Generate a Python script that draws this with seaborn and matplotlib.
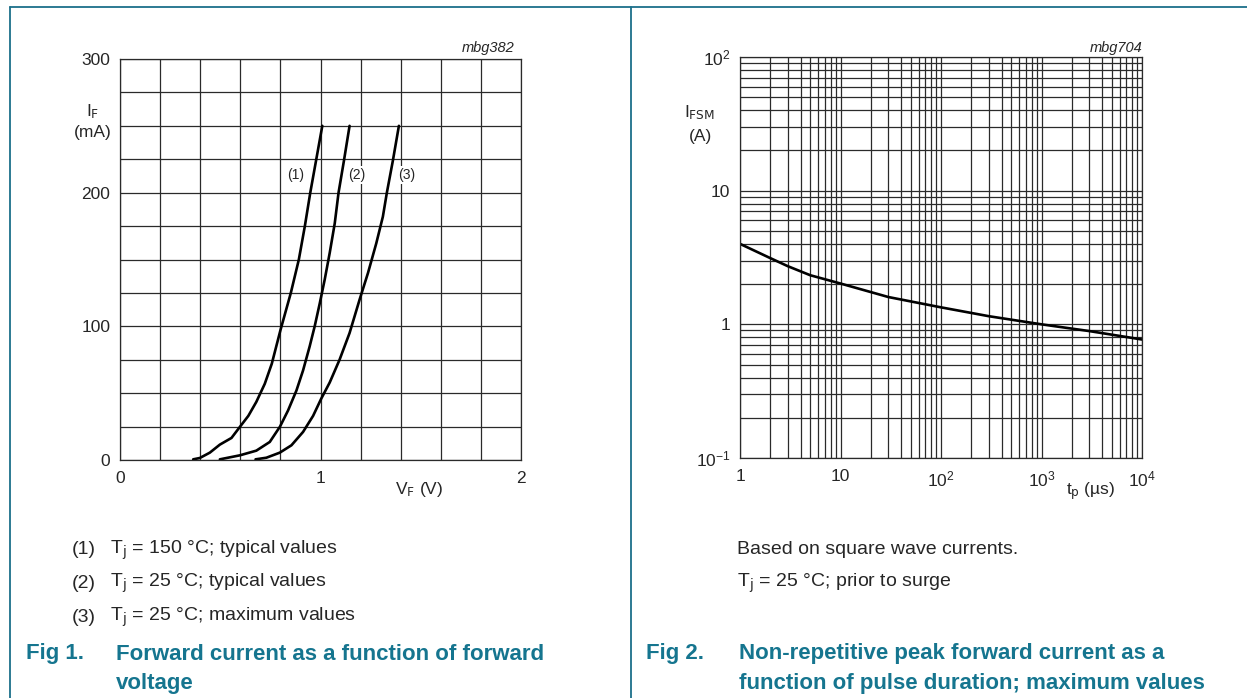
import seaborn as sns
import matplotlib.pyplot as plt
import matplotlib.ticker as mticker
from matplotlib.lines import Line2D
import pandas as pd
import numpy as np

# ---- Data ----
curve_labels = ["(1)", "(2)", "(3)"]
vf_1 = [0.365, 0.398, 0.448, 0.498, 0.556, 0.599, 0.640, 0.680, 0.722, 0.757, 0.800,
        0.852, 0.892, 0.922, 0.949, 0.979, 1.009]
if_1 = [0.5, 1.5, 5.5, 11.5, 16.5, 25, 33, 43.5, 57, 72, 97,
        125, 150, 175, 200, 225, 250]
vf_2 = [0.498, 0.598, 0.680, 0.747, 0.798, 0.838, 0.880, 0.913, 0.946, 0.971, 0.996,
        1.021, 1.046, 1.071, 1.090, 1.117, 1.145]
if_2 = [0.5, 3.5, 7, 13.5, 25, 37, 52, 67, 85, 100, 117,
        135, 155, 177, 200, 224, 250]
vf_3 = [0.676, 0.730, 0.797, 0.855, 0.913, 0.963, 1.004, 1.046, 1.095, 1.145, 1.195,
        1.237, 1.278, 1.311, 1.331, 1.361, 1.391]
if_3 = [0.5, 1.7, 5.5, 11, 21, 33, 46, 58, 75, 95, 120,
        140, 162, 182, 200, 224, 250]
label_x = [0.874, 1.18, 1.43]
label_y = [213, 213, 213]

tp_us = [1, 2, 3, 5, 10, 30, 100, 300, 1000, 3000, 10000]
ifsm_a = [4.0, 3.13, 2.72, 2.33, 2.02, 1.60, 1.34, 1.15, 1.0, 0.89, 0.77]

fig1_notes = [r"T$_\mathrm{j}$ = 150 °C; typical values",
              r"T$_\mathrm{j}$ = 25 °C; typical values",
              r"T$_\mathrm{j}$ = 25 °C; maximum values"]
fig2_notes = ["Based on square wave currents.", r"T$_\mathrm{j}$ = 25 °C; prior to surge"]

rows = []
for lab, xs, ys in zip(curve_labels, [vf_1, vf_2, vf_3], [if_1, if_2, if_3]):
    for x, y in zip(xs, ys):
        rows.append({"curve": lab, "VF": x, "IF": y})
df_fwd = pd.DataFrame(rows)
df_surge = pd.DataFrame({"tp": tp_us, "IFSM": ifsm_a})

# ---- Style ----
sns.set_style("white")
plt.rcParams["font.family"] = ["Liberation Sans", "DejaVu Sans"]
plt.rcParams["mathtext.default"] = "regular"

W, H = 1247, 698
fig = plt.figure(figsize=(W / 100, H / 100), dpi=100)
teal = "#1b6f8a"
cap_col = "#15758f"
gcol = "#2a2a2a"


def fx(px):
    return px / W


def fy(py):
    return 1 - py / H


# frame lines
for xs, ys in [([10, 10], [7, H]), ([10, W], [7, 7]), ([630.5, 630.5], [7, H])]:
    fig.add_artist(Line2D([fx(v) for v in xs], [fy(v) for v in ys],
                          transform=fig.transFigure, color=teal, lw=1.3))

# ---- Fig 1: forward current ----
ax1 = fig.add_axes([fx(120), fy(460), (521 - 120) / W, (460 - 59) / H])
sns.lineplot(data=df_fwd, x="VF", y="IF", units="curve", estimator=None,
             sort=False, color="black", lw=1.9, ax=ax1)
ax1.set_xlim(0, 2)
ax1.set_ylim(0, 300)
ax1.xaxis.set_major_locator(mticker.FixedLocator([0, 1, 2]))
ax1.xaxis.set_minor_locator(mticker.MultipleLocator(0.2))
ax1.yaxis.set_major_locator(mticker.FixedLocator([0, 100, 200, 300]))
ax1.yaxis.set_minor_locator(mticker.MultipleLocator(25))
ax1.xaxis.set_major_formatter(mticker.FixedFormatter(["0", "1", "2"]))
ax1.grid(True, which="both", color=gcol, lw=0.9)
ax1.tick_params(which="both", length=0, labelsize=12.5)
ax1.tick_params(axis="x", pad=8)
ax1.tick_params(axis="y", pad=7)
ax1.set_xlabel("")
ax1.set_ylabel("")
for lab, x, y in zip(curve_labels, label_x, label_y):
    ax1.text(x, y, lab, fontsize=10, ha="center", va="center",
             bbox=dict(fc="white", ec="none", pad=1.5))
ax1.text(1.49, -15, r"V$_\mathrm{F}$ (V)", fontsize=12.5, ha="center", va="top")
ax1.text(1.97, 303, "mbg382", fontsize=10.5, style="italic", ha="right", va="bottom")

fig.text(fx(93), fy(112), r"I$_\mathrm{F}$", fontsize=12.5, ha="center", va="center")
fig.text(fx(93), fy(133), "(mA)", fontsize=12.5, ha="center", va="center")

# ---- Fig 2: surge current ----
ax2 = fig.add_axes([fx(740), fy(458), (1142 - 740) / W, (458 - 57) / H])
sns.lineplot(data=df_surge, x="tp", y="IFSM", color="black", lw=1.9, ax=ax2)
ax2.set_xscale("log")
ax2.set_yscale("log")
ax2.set_xlim(1, 1e4)
ax2.set_ylim(0.1, 100)
ax2.xaxis.set_major_locator(mticker.FixedLocator([1, 10, 100, 1000, 10000]))
ax2.xaxis.set_major_formatter(mticker.FixedFormatter(["1", "10", "$10^{2}$", "$10^{3}$", "$10^{4}$"]))
ax2.yaxis.set_major_locator(mticker.FixedLocator([0.1, 1, 10, 100]))
ax2.yaxis.set_major_formatter(mticker.FixedFormatter(["$10^{-1}$", "1", "10", "$10^{2}$"]))
ax2.xaxis.set_minor_locator(mticker.LogLocator(base=10, subs=np.arange(2, 10)))
ax2.yaxis.set_minor_locator(mticker.LogLocator(base=10, subs=np.arange(2, 10)))
ax2.xaxis.set_minor_formatter(mticker.NullFormatter())
ax2.yaxis.set_minor_formatter(mticker.NullFormatter())
ax2.grid(True, which="both", color=gcol, lw=0.9)
ax2.tick_params(which="both", length=0, labelsize=12.5)
ax2.tick_params(axis="x", pad=8)
ax2.tick_params(axis="y", pad=7)
ax2.set_xlabel("")
ax2.set_ylabel("")
fig.text(fx(1091), fy(491), r"t$_\mathrm{p}$ (µs)", fontsize=12.5, ha="center", va="center")
ax2.text(1e4, 103, "mbg704", fontsize=10.5, style="italic", ha="right", va="bottom")

fig.text(fx(700), fy(113), r"I$_\mathrm{FSM}$", fontsize=12.5, ha="center", va="center")
fig.text(fx(700), fy(136), "(A)", fontsize=12.5, ha="center", va="center")

for ax in (ax1, ax2):
    for s in ax.spines.values():
        s.set_color(gcol)
        s.set_linewidth(0.9)

# ---- Notes and captions ----
note_fs = 14
for i, note in enumerate(fig1_notes):
    y = 550 + i * 33.5
    fig.text(fx(72), fy(y), f"({i + 1})", fontsize=note_fs, va="center")
    fig.text(fx(110), fy(y), note, fontsize=note_fs, va="center")
for i, note in enumerate(fig2_notes):
    fig.text(fx(737), fy(550 + i * 33.5), note, fontsize=note_fs, va="center")

cap_kw = dict(fontsize=16, fontweight="bold", color=cap_col, va="center")
fig.text(fx(26), fy(654), "Fig 1.", **cap_kw)
fig.text(fx(116), fy(654), "Forward current as a function of forward", **cap_kw)
fig.text(fx(116), fy(684), "voltage", **cap_kw)
fig.text(fx(646), fy(654), "Fig 2.", **cap_kw)
fig.text(fx(739), fy(654), "Non-repetitive peak forward current as a", **cap_kw)
fig.text(fx(739), fy(684), "function of pulse duration; maximum values", **cap_kw)

fig.savefig("out.png", dpi=100)
plt.close(fig)
